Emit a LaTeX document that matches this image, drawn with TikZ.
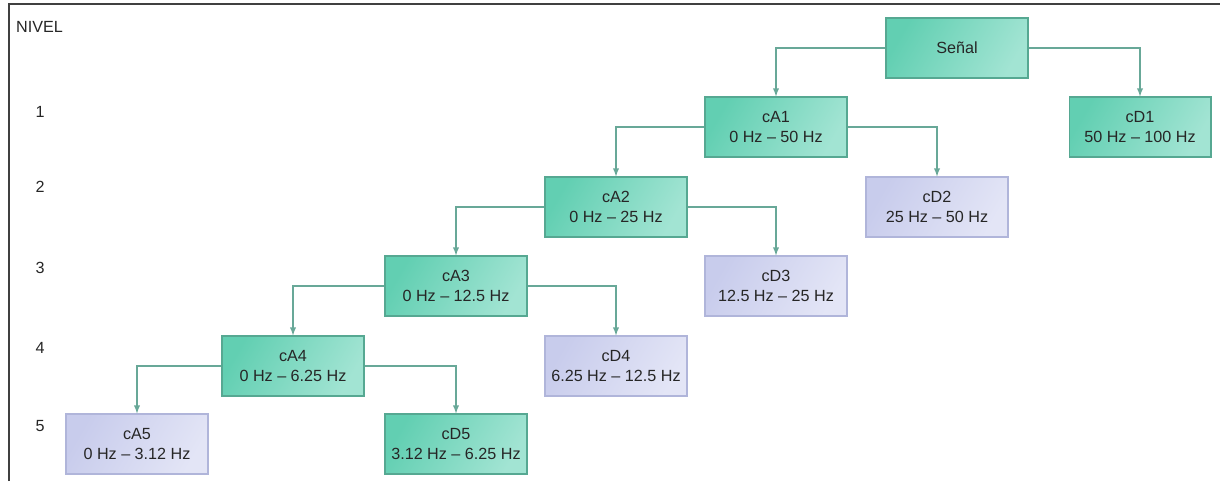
\documentclass[tikz,border=0pt]{standalone}
\usepackage{fontspec}
\setmainfont{Liberation Sans}
\usetikzlibrary{arrows}

\definecolor{tealdark}{HTML}{62CFB2}
\definecolor{teallight}{HTML}{A2E4D3}
\definecolor{tealedge}{HTML}{56A892}
\definecolor{lavdark}{HTML}{C8CCEC}
\definecolor{lavlight}{HTML}{E3E5F6}
\definecolor{lavedge}{HTML}{B0B5DA}
\definecolor{linkcol}{HTML}{68A898}

\tikzset{
  box/.style={draw, line width=0.6pt, minimum width=2.84cm, minimum height=1.2cm,
    align=center, font=\fontsize{9.2}{11.2}\selectfont, text=black!85, inner sep=1pt},
  hibox/.style={box, draw=tealedge, shading=axis, left color=tealdark, right color=teallight, shading angle=60},
  lobox/.style={box, draw=lavedge, shading=axis, left color=lavdark, right color=lavlight, shading angle=60},
  link/.style={draw=linkcol, line width=0.6pt, -latex},
  lvl/.style={font=\fontsize{9.2}{11}\selectfont, text=black!85}
}

\begin{document}
\begin{tikzpicture}[x=0.02cm,y=-0.02cm]
  \path[use as bounding box] (0,0) rectangle (1220,481);
  \draw[line width=1.1pt, black!75] (9,481) -- (9,4) -- (1220,4);

  % niveles
  \node[lvl, anchor=west] (nivel) at (10,27) {NIVEL};
  \node[lvl] (n1) at (40,112) {1};
  \node[lvl] (n2) at (40,187) {2};
  \node[lvl] (n3) at (40,268) {3};
  \node[lvl] (n4) at (40,348) {4};
  \node[lvl] (n5) at (40,426) {5};

  % cajas
  \node[hibox] (senal) at (957,48) {Señal};
  \node[hibox] (cA1) at (776,127) {cA1\\0 Hz -- 50 Hz};
  \node[hibox] (cD1) at (1140,127) {cD1\\50 Hz -- 100 Hz};
  \node[hibox] (cA2) at (616,207) {cA2\\0 Hz -- 25 Hz};
  \node[lobox] (cD2) at (937,207) {cD2\\25 Hz -- 50 Hz};
  \node[hibox] (cA3) at (456,286) {cA3\\0 Hz -- 12.5 Hz};
  \node[lobox] (cD3) at (776,286) {cD3\\12.5 Hz -- 25 Hz};
  \node[hibox] (cA4) at (293,366) {cA4\\0 Hz -- 6.25 Hz};
  \node[lobox] (cD4) at (616,366) {cD4\\6.25 Hz -- 12.5 Hz};
  \node[lobox] (cA5) at (137,444) {cA5\\0 Hz -- 3.12 Hz};
  \node[hibox] (cD5) at (456,444) {cD5\\3.12 Hz -- 6.25 Hz};

  % flechas
  \draw[link] (senal.west) -| (cA1.north);
  \draw[link] (senal.east) -| (cD1.north);
  \draw[link] (cA1.west) -| (cA2.north);
  \draw[link] (cA1.east) -| (cD2.north);
  \draw[link] (cA2.west) -| (cA3.north);
  \draw[link] (cA2.east) -| (cD3.north);
  \draw[link] (cA3.west) -| (cA4.north);
  \draw[link] (cA3.east) -| (cD4.north);
  \draw[link] (cA4.west) -| (cA5.north);
  \draw[link] (cA4.east) -| (cD5.north);
\end{tikzpicture}
\end{document}
